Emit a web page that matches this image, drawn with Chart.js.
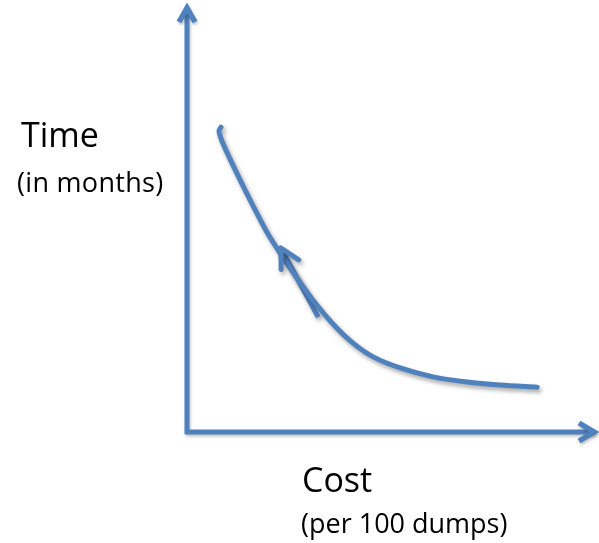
<!DOCTYPE html>
<html lang="en">
<head>
    <meta charset="UTF-8">
    <title>Time vs Cost</title>
    <style>
        body {
            margin: 0;
            padding: 0;
            background-color: #fff;
            font-family: "Open Sans", sans-serif;
        }
        .wrap {
            position: relative;
            width: 599px;
            height: 543px;
        }
        #chart {
            position: absolute;
            left: 0;
            top: 0;
        }
        .lbl {
            position: absolute;
            line-height: 1;
            white-space: nowrap;
            color: #000;
        }
        .big { font-size: 34px; }
        .small { font-size: 27px; }
    </style>
</head>
<body>
    <div class="wrap">
        <canvas id="chart" width="599" height="543"></canvas>
        <div class="lbl big" style="left:21px; top:117px;">Time</div>
        <div class="lbl small" style="left:17px; top:168px; letter-spacing:0.3px;">(in months)</div>
        <div class="lbl big" style="left:302px; top:462px;">Cost</div>
        <div class="lbl small" style="left:301px; top:509px;">(per 100 dumps)</div>
    </div>
    <script src="https://cdn.jsdelivr.net/npm/chart.js"></script>
    <script>
        // curve (cost, time), arbitrary units 0..100
        const curveCost = [8.3, 7.8, 8.5, 11.2, 15.4, 19.5, 23.2, 26.8, 30.7, 35.6, 40.5, 45.4, 52.0, 60.0, 68.3, 76.3, 85.4];
        const curveTime = [71.4, 70.5, 68.2, 62.5, 54.3, 46.8, 41.2, 36.1, 30.9, 25.3, 20.8, 17.6, 15.0, 12.9, 11.7, 11.0, 10.5];

        // direction arrow drawn next to the curve (tail -> head)
        const arrowCost = [32.0, 22.9];
        const arrowTime = [26.9, 43.1];

        const blue = '#4f81bd';

        const toPoints = (xs, ys) => xs.map((x, i) => ({ x: x, y: ys[i] }));

        function drawHead(ctx, tipX, tipY, fromX, fromY, len, half) {
            const ang = Math.atan2(tipY - fromY, tipX - fromX);
            const bx = tipX - Math.cos(ang) * len;
            const by = tipY - Math.sin(ang) * len;
            const nx = -Math.sin(ang) * half;
            const ny = Math.cos(ang) * half;
            ctx.beginPath();
            ctx.moveTo(bx + nx, by + ny);
            ctx.lineTo(tipX, tipY);
            ctx.lineTo(bx - nx, by - ny);
            ctx.stroke();
        }

        const shadowPlugin = {
            id: 'shadow',
            beforeDatasetsDraw(chart) {
                const ctx = chart.ctx;
                ctx.save();
                ctx.shadowColor = 'rgba(0,0,0,0.35)';
                ctx.shadowBlur = 4;
                ctx.shadowOffsetX = 2;
                ctx.shadowOffsetY = 3;
            },
            afterDatasetsDraw(chart) {
                chart.ctx.restore();
            }
        };

        const axesPlugin = {
            id: 'arrowAxes',
            beforeDatasetsDraw(chart) {
                const ctx = chart.ctx;
                const xs = chart.scales.x;
                const ys = chart.scales.y;
                const ox = xs.getPixelForValue(0);
                const oy = ys.getPixelForValue(0);
                const top = ys.getPixelForValue(100);
                const right = xs.getPixelForValue(100);
                ctx.save();
                ctx.strokeStyle = blue;
                ctx.lineWidth = 5;
                ctx.lineJoin = 'miter';
                ctx.lineCap = 'butt';
                ctx.shadowColor = 'rgba(0,0,0,0.25)';
                ctx.shadowBlur = 3;
                ctx.shadowOffsetX = 1;
                ctx.shadowOffsetY = 2;
                ctx.beginPath();
                ctx.moveTo(ox, oy + 2);
                ctx.lineTo(ox, top + 2);
                ctx.moveTo(ox - 2, oy);
                ctx.lineTo(right - 2, oy);
                ctx.stroke();
                ctx.lineWidth = 5.5;
                drawHead(ctx, ox, top + 3, ox, oy, 14, 8);
                drawHead(ctx, right - 3, oy, ox, oy, 15, 9);
                ctx.restore();
            }
        };

        const arrowHeadPlugin = {
            id: 'curveArrow',
            afterDatasetsDraw(chart) {
                const meta = chart.getDatasetMeta(1);
                const p = meta.data;
                if (p.length < 2) return;
                const ctx = chart.ctx;
                ctx.save();
                ctx.strokeStyle = blue;
                ctx.lineWidth = 5;
                ctx.lineCap = 'round';
                ctx.lineJoin = 'round';
                ctx.shadowColor = 'rgba(0,0,0,0.3)';
                ctx.shadowBlur = 4;
                ctx.shadowOffsetX = 2;
                ctx.shadowOffsetY = 3;
                drawHead(ctx, p[1].x, p[1].y, p[0].x, p[0].y, 19, 10);
                ctx.restore();
            }
        };

        new Chart(document.getElementById('chart').getContext('2d'), {
            type: 'scatter',
            data: {
                datasets: [{
                    data: toPoints(curveCost, curveTime),
                    showLine: true,
                    borderColor: blue,
                    borderWidth: 5,
                    tension: 0.3,
                    borderCapStyle: 'round',
                    pointRadius: 0
                }, {
                    data: toPoints(arrowCost, arrowTime),
                    showLine: true,
                    borderColor: blue,
                    borderWidth: 5,
                    borderCapStyle: 'butt',
                    pointRadius: 0
                }]
            },
            options: {
                responsive: false,
                animation: false,
                layout: {
                    padding: { left: 187, right: 2, top: 5, bottom: 111 }
                },
                plugins: {
                    legend: { display: false },
                    tooltip: { enabled: false }
                },
                scales: {
                    x: { type: 'linear', min: 0, max: 100, display: false },
                    y: { type: 'linear', min: 0, max: 100, display: false }
                }
            },
            plugins: [axesPlugin, shadowPlugin, arrowHeadPlugin]
        });
    </script>
</body>
</html>
